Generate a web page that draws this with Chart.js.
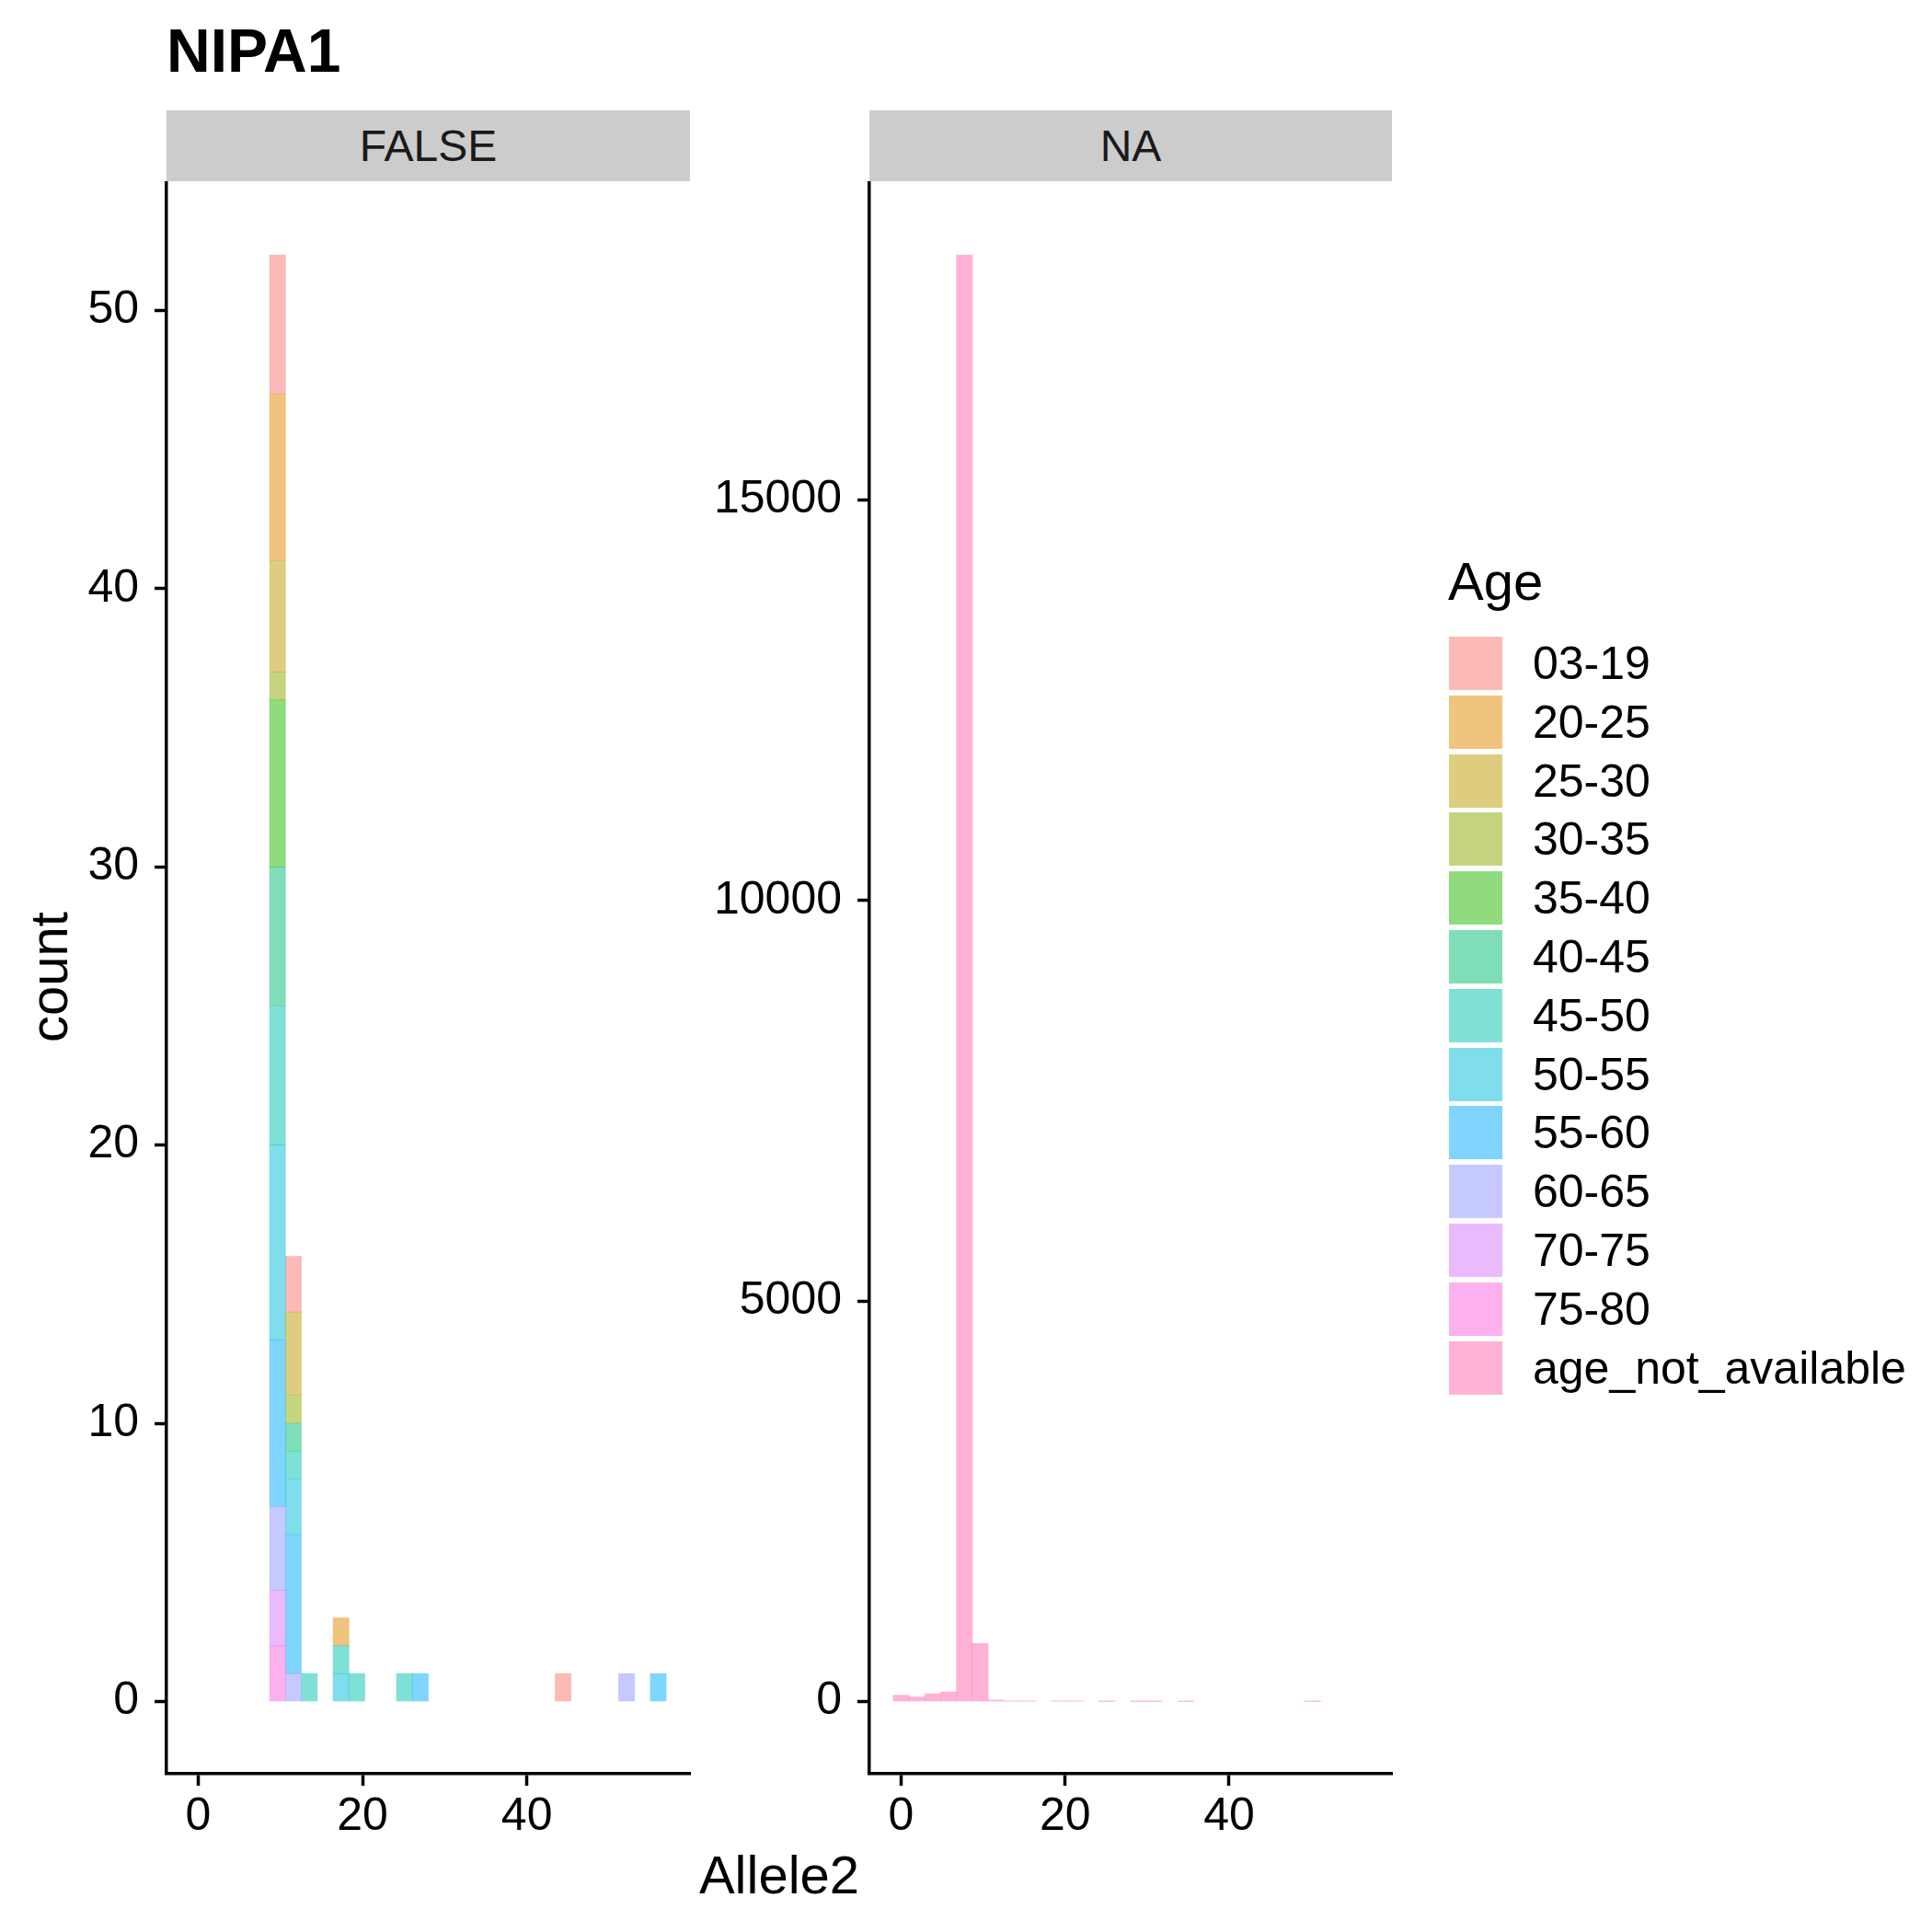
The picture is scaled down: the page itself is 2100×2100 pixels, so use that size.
<!DOCTYPE html>
<html>
<head>
<meta charset="utf-8">
<script src="https://cdn.jsdelivr.net/npm/chart.js@4.4.1/dist/chart.umd.min.js"></script>
<style>
  html, body { margin:0; padding:0; background:#fff; }
  body { width:2100px; height:2100px; position:relative; overflow:hidden; font-family:"Liberation Sans", Arial, Helvetica, sans-serif; color:#000; }
  .abs { position:absolute; }
  .strip { position:absolute; background:#CCCCCC; display:flex; align-items:center; justify-content:center; font-size:48px; line-height:1; color:#1A1A1A; }
  canvas { position:absolute; }
  .key { position:absolute; width:58px; height:58px; }
  .klab { position:absolute; font-size:50px; line-height:1; white-space:nowrap; }
</style>
</head>
<body>
<div class="abs" style="left:181px;top:22px;font-size:66px;line-height:1;font-weight:bold;">NIPA1</div>
<div class="strip" style="left:181px;top:120px;width:569px;height:77px;">FALSE</div>
<div class="strip" style="left:945px;top:120px;width:568px;height:77px;">NA</div>
<div class="abs" style="left:697px;top:2009px;width:300px;text-align:center;font-size:58px;line-height:1;">Allele2</div>
<div class="abs" style="left:-97px;top:1033px;width:300px;height:58px;text-align:center;font-size:58px;line-height:58px;transform:rotate(-90deg);transform-origin:150px 29px;">count</div>
<div id="legend"></div>
<canvas id="cLeft" width="770" height="1849" style="left:0px;top:179px;width:770px;height:1849px;"></canvas>
<canvas id="cRight" width="770" height="1849" style="left:770px;top:179px;width:770px;height:1849px;"></canvas>
<script>
// ---- data ----
const binCenters = [0, 1.931, 3.862, 5.793, 7.724, 9.655, 11.586, 13.517, 15.448, 17.379,
                    19.31, 21.241, 23.172, 25.103, 27.034, 28.966, 30.897, 32.828, 34.759, 36.69,
                    38.621, 40.552, 42.483, 44.414, 46.345, 48.276, 50.207, 52.138, 54.069, 56];
const ageGroups = ['03-19','20-25','25-30','30-35','35-40','40-45','45-50','50-55','55-60','60-65','70-75','75-80','age_not_available'];
const ageColors = ['#F8766D','#E18A00','#BE9C00','#8CAB00','#24B700','#00BE70','#00C1AB','#00BBDA','#00ACFC','#8B93FF','#D575FE','#F962DD','#FF65AC'];

// FALSE facet counts per bin
const false_03_19 = [0,0,0,0,0,5,2,0,0,0, 0,0,0,0,0,0,0,0,0,0, 0,0,0,1,0,0,0,0,0,0];
const false_20_25 = [0,0,0,0,0,6,0,0,0,1, 0,0,0,0,0,0,0,0,0,0, 0,0,0,0,0,0,0,0,0,0];
const false_25_30 = [0,0,0,0,0,4,3,0,0,0, 0,0,0,0,0,0,0,0,0,0, 0,0,0,0,0,0,0,0,0,0];
const false_30_35 = [0,0,0,0,0,1,1,0,0,0, 0,0,0,0,0,0,0,0,0,0, 0,0,0,0,0,0,0,0,0,0];
const false_35_40 = [0,0,0,0,0,6,0,0,0,0, 0,0,0,0,0,0,0,0,0,0, 0,0,0,0,0,0,0,0,0,0];
const false_40_45 = [0,0,0,0,0,5,1,0,0,0, 0,0,0,0,0,0,0,0,0,0, 0,0,0,0,0,0,0,0,0,0];
const false_45_50 = [0,0,0,0,0,5,1,1,0,1, 1,0,0,1,0,0,0,0,0,0, 0,0,0,0,0,0,0,0,0,0];
const false_50_55 = [0,0,0,0,0,7,2,0,0,1, 0,0,0,0,0,0,0,0,0,0, 0,0,0,0,0,0,0,0,0,0];
const false_55_60 = [0,0,0,0,0,6,5,0,0,0, 0,0,0,0,1,0,0,0,0,0, 0,0,0,0,0,0,0,0,0,1];
const false_60_65 = [0,0,0,0,0,3,1,0,0,0, 0,0,0,0,0,0,0,0,0,0, 0,0,0,0,0,0,0,1,0,0];
const false_70_75 = [0,0,0,0,0,2,0,0,0,0, 0,0,0,0,0,0,0,0,0,0, 0,0,0,0,0,0,0,0,0,0];
const false_75_80 = [0,0,0,0,0,2,0,0,0,0, 0,0,0,0,0,0,0,0,0,0, 0,0,0,0,0,0,0,0,0,0];
const false_age_na = [0,0,0,0,0,0,0,0,0,0, 0,0,0,0,0,0,0,0,0,0, 0,0,0,0,0,0,0,0,0,0];

// NA facet counts per bin (age_not_available only)
const na_age_na = [77,54,96,119,18060,723,19,3,3,0, 2,2,0,1,0,1,1,0,1,0, 0,0,0,0,0,0,1,0,0,0];

const xTicks = [0, 20, 40];
const xRange = [-3.862, 59.862];
const yTicksLeft = [0, 10, 20, 30, 40, 50];
const yRangeLeft = [-2.6, 54.6];
const yTicksRight = [0, 5000, 10000, 15000];
const yRangeRight = [-903, 18963];

// ---- helpers ----
const FONT = '"Liberation Sans", Arial, Helvetica, sans-serif';
function rgba(hex, a) {
  const r = parseInt(hex.slice(1,3),16), g = parseInt(hex.slice(3,5),16), b = parseInt(hex.slice(5,7),16);
  return `rgba(${r},${g},${b},${a})`;
}
const ALPHA = 0.5;
const falseSeries = [false_03_19,false_20_25,false_25_30,false_30_35,false_35_40,false_40_45,false_45_50,false_50_55,false_55_60,false_60_65,false_70_75,false_75_80,false_age_na];

function toPoints(arr) { return arr.map((v,i) => ({x: binCenters[i], y: v === 0 ? null : v})); }

function axisCommon() {
  return {
    offset:false,
    border: {display:true, color:'#000', width:3.5},
    grid: {display:true, offset:false, drawOnChartArea:false, drawTicks:true, tickLength:13, tickWidth:3.5, tickColor:'#000', color:'#000'},
  };
}

function makeOptions(yRange, yTicks, yAxisWidth, padRight) {
  return {
    responsive:false, animation:false, devicePixelRatio:1,
    layout:{padding:{top:10, right:padRight, left:0, bottom:0}},
    plugins:{legend:{display:false}, tooltip:{enabled:false}, title:{display:false}},
    datasets:{bar:{barPercentage:1, categoryPercentage:1, borderWidth:0}},
    scales:{
      x: Object.assign(axisCommon(), {
        type:'linear', min:xRange[0], max:xRange[1], stacked:true,
        afterBuildTicks: a => { a.ticks = xTicks.map(v => ({value:v})); },
        afterFit: s => { s.height = 100; },
        ticks:{font:{family:FONT, size:50}, color:'#000', padding:4, maxRotation:0, autoSkip:false, callback: v => String(v)}
      }),
      y: Object.assign(axisCommon(), {
        type:'linear', min:yRange[0], max:yRange[1], stacked:true,
        afterBuildTicks: a => { a.ticks = yTicks.map(v => ({value:v})); },
        afterFit: s => { s.width = yAxisWidth; },
        ticks:{font:{family:FONT, size:50, lineHeight:0.1}, color:'#000', padding:17, autoSkip:false, callback: v => String(v)}
      })
    }
  };
}

// FALSE facet: datasets bottom-first (ggplot stacks first level on top)
const leftDatasets = [];
for (let i = ageGroups.length - 1; i >= 0; i--) {
  leftDatasets.push({label:ageGroups[i], data:toPoints(falseSeries[i]), backgroundColor:rgba(ageColors[i], ALPHA)});
}
new Chart(document.getElementById('cLeft'), {
  type:'bar',
  data:{datasets:leftDatasets},
  options:makeOptions(yRangeLeft, yTicksLeft, 181, 20)
});

const naIdx = ageGroups.indexOf('age_not_available');
new Chart(document.getElementById('cRight'), {
  type:'bar',
  data:{datasets:[{label:ageGroups[naIdx], data:toPoints(na_age_na), backgroundColor:rgba(ageColors[naIdx], ALPHA)}]},
  options:makeOptions(yRangeRight, yTicksRight, 175, 27)
});

// ---- legend (HTML) ----
const lg = document.getElementById('legend');
const title = document.createElement('div');
title.className = 'abs';
title.style.cssText = 'left:1574px;top:603px;font-size:58px;line-height:1;';
title.textContent = 'Age';
lg.appendChild(title);
ageGroups.forEach((g, i) => {
  const top = 692 + i * 63.8;
  const k = document.createElement('div');
  k.className = 'key';
  k.style.left = '1575px';
  k.style.top = top + 'px';
  k.style.background = rgba(ageColors[i], ALPHA);
  lg.appendChild(k);
  const t = document.createElement('div');
  t.className = 'klab';
  t.style.left = '1666px';
  t.style.top = (top + 29 - 25) + 'px';
  t.textContent = g;
  lg.appendChild(t);
});
</script>
</body>
</html>
